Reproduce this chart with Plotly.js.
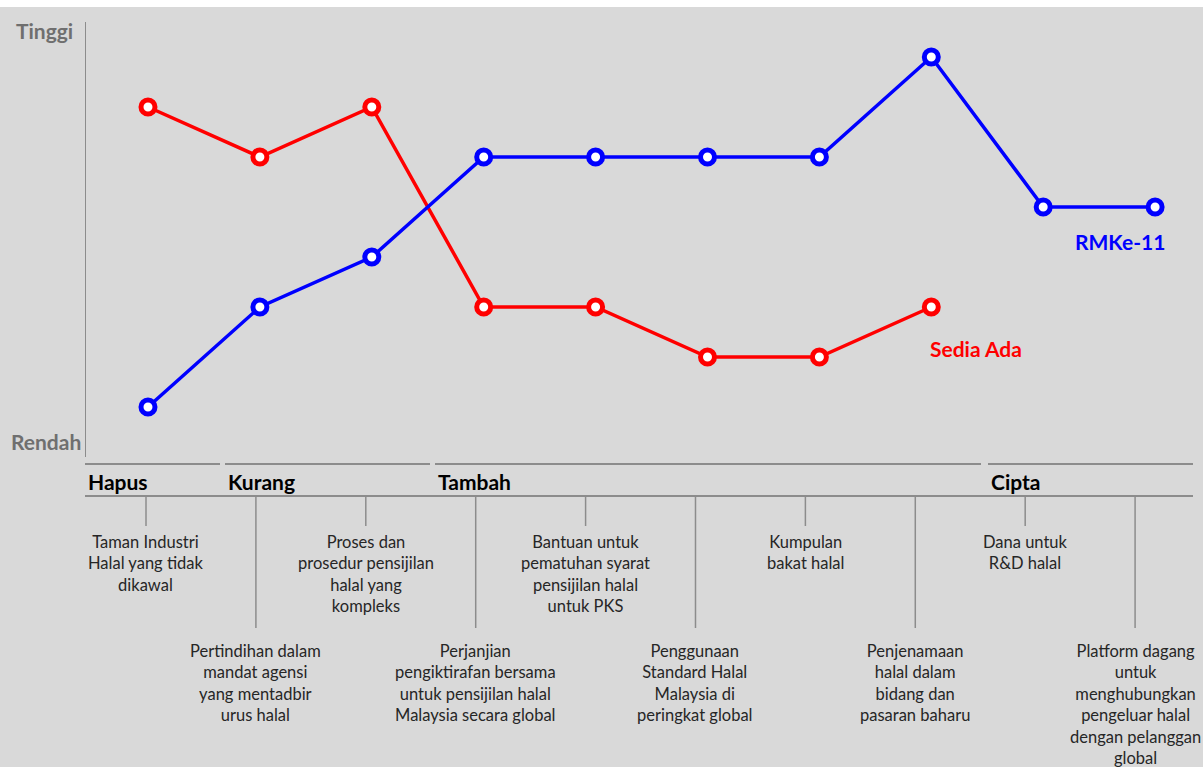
<!DOCTYPE html>
<html>
<head>
<meta charset="utf-8">
<script src="https://cdn.plot.ly/plotly-3.0.1.min.js"></script>
<style>
  html, body { margin: 0; padding: 0; background: #d9d9d9; }
  #chart { width: 1203px; height: 767px; }
</style>
</head>
<body>
<div id="chart"></div>
<script>
// ---- data ----
const categories = [
  "Taman Industri<br>Halal yang tidak<br>dikawal",
  "Pertindihan dalam<br>mandat agensi<br>yang mentadbir<br>urus halal",
  "Proses dan<br>prosedur pensijilan<br>halal yang<br>kompleks",
  "Perjanjian<br>pengiktirafan bersama<br>untuk pensijilan halal<br>Malaysia secara global",
  "Bantuan untuk<br>pematuhan syarat<br>pensijilan halal<br>untuk PKS",
  "Penggunaan<br>Standard Halal<br>Malaysia di<br>peringkat global",
  "Kumpulan<br>bakat halal",
  "Penjenamaan<br>halal dalam<br>bidang dan<br>pasaran baharu",
  "Dana untuk<br>R&amp;D halal",
  "Platform dagang<br>untuk<br>menghubungkan<br>pengeluar halal<br>dengan pelanggan<br>global"
];
const sediaAda = [7, 6, 7, 3, 3, 2, 2, 3];
const rmke11   = [1, 3, 4, 6, 6, 6, 6, 8, 5, 5];
const seriesNames = ["Sedia Ada", "RMKe-11"];
const groupNames = ["Hapus", "Kurang", "Tambah", "Cipta"];
const levelLabels = ["Tinggi", "Rendah"];

// ---- layout helpers (pixel -> paper) ----
const L = 86, W = 1117, T = 22, H = 435;
const px = x => (x - L) / W;
const py = y => (T + H - y) / H;

const RED = "#ff0000", BLUE = "#0000ff";
const idx = categories.map((_, i) => i);

const traces = [
  {
    x: idx.slice(0, sediaAda.length), y: sediaAda, name: seriesNames[0],
    type: "scatter", mode: "lines+markers",
    line: { color: RED, width: 3.5 },
    marker: { color: "#ffffff", size: 14, line: { color: RED, width: 5 } },
    hoverinfo: "skip", cliponaxis: false
  },
  {
    x: idx, y: rmke11, name: seriesNames[1],
    type: "scatter", mode: "lines+markers",
    line: { color: BLUE, width: 3.5 },
    marker: { color: "#ffffff", size: 14, line: { color: BLUE, width: 5 } },
    hoverinfo: "skip", cliponaxis: false
  },
  {
    x: idx, y: idx.map(() => null), xaxis: "x2", yaxis: "y",
    type: "scatter", mode: "markers", showlegend: false, hoverinfo: "skip"
  }
];

const shapes = [];
const annotations = [];

// white band at very top
shapes.push({ type: "rect", xref: "paper", yref: "paper",
  x0: px(0), x1: px(1203), y0: py(7), y1: py(-2),
  fillcolor: "#ffffff", line: { width: 0 }, layer: "above" });

// group lines and labels
const groupSpans = [[85, 220], [225, 430], [435, 981], [988, 1193]];
groupNames.forEach((g, k) => {
  const [a, b] = groupSpans[k];
  shapes.push({ type: "line", xref: "paper", yref: "paper",
    x0: px(a), x1: px(b), y0: py(464), y1: py(464),
    line: { color: "#8c8c8c", width: 2 } });
  annotations.push({ xref: "paper", yref: "paper", x: px(a + 1), y: py(481),
    xanchor: "left", yanchor: "middle", showarrow: false, text: g,
    font: { family: "Lato, sans-serif", size: 21, color: "#000000", weight: "bold" } });
});
// long baseline under group labels
shapes.push({ type: "line", xref: "paper", yref: "paper",
  x0: px(85), x1: px(1193), y0: py(496), y1: py(496),
  line: { color: "#8c8c8c", width: 2 } });

// ticks + descriptions
categories.forEach((c, i) => {
  const low = i % 2 === 1;
  shapes.push({ type: "line", xref: "x2", yref: "paper",
    x0: i, x1: i, y0: py(496), y1: py(low ? 628 : 526),
    line: { color: "#8c8c8c", width: 1.5 } });
  annotations.push({ xref: "x2", yref: "paper", x: i, y: py(low ? 638.5 : 529.5),
    xanchor: "center", yanchor: "top", align: "center", showarrow: false,
    text: c, font: { family: "Lato, sans-serif", size: 16.5, color: "#262626" } });
});

// level labels
annotations.push({ xref: "paper", yref: "paper", x: px(14), y: py(30),
  xanchor: "left", yanchor: "middle", showarrow: false, text: levelLabels[0],
  font: { family: "Lato, sans-serif", size: 21, color: "#6f6f6f", weight: "bold" } });
annotations.push({ xref: "paper", yref: "paper", x: px(9), y: py(441),
  xanchor: "left", yanchor: "middle", showarrow: false, text: levelLabels[1],
  font: { family: "Lato, sans-serif", size: 21, color: "#6f6f6f", weight: "bold" } });

// series labels
annotations.push({ xref: "x", yref: "y", x: 9.11, y: (457 - 241) / 50,
  xanchor: "right", yanchor: "middle", showarrow: false, text: seriesNames[1],
  font: { family: "Lato, sans-serif", size: 21, color: BLUE, weight: "bold" } });
annotations.push({ xref: "x", yref: "y", x: 7.83, y: (457 - 348) / 50,
  xanchor: "right", yanchor: "middle", showarrow: false, text: seriesNames[0],
  font: { family: "Lato, sans-serif", size: 21, color: RED, weight: "bold" } });

const layout = {
  width: 1203, height: 767,
  margin: { l: L, r: 1203 - L - W, t: T, b: 767 - T - H, pad: 0 },
  paper_bgcolor: "#d9d9d9", plot_bgcolor: "#d9d9d9",
  showlegend: false,
  xaxis: { range: [-0.554, 9.428], showgrid: false, zeroline: false,
    showline: false, showticklabels: false, ticks: "", fixedrange: true },
  xaxis2: { range: [-0.546, 9.618], overlaying: "x", anchor: "y",
    showgrid: false, zeroline: false, showline: false, showticklabels: false,
    ticks: "", fixedrange: true },
  yaxis: { range: [0, 8.7], showgrid: false, zeroline: false,
    showline: true, linecolor: "#8c8c8c", linewidth: 1,
    showticklabels: false, ticks: "", fixedrange: true },
  shapes: shapes,
  annotations: annotations
};

Plotly.newPlot("chart", traces, layout, { displayModeBar: false, staticPlot: true });
</script>
</body>
</html>
